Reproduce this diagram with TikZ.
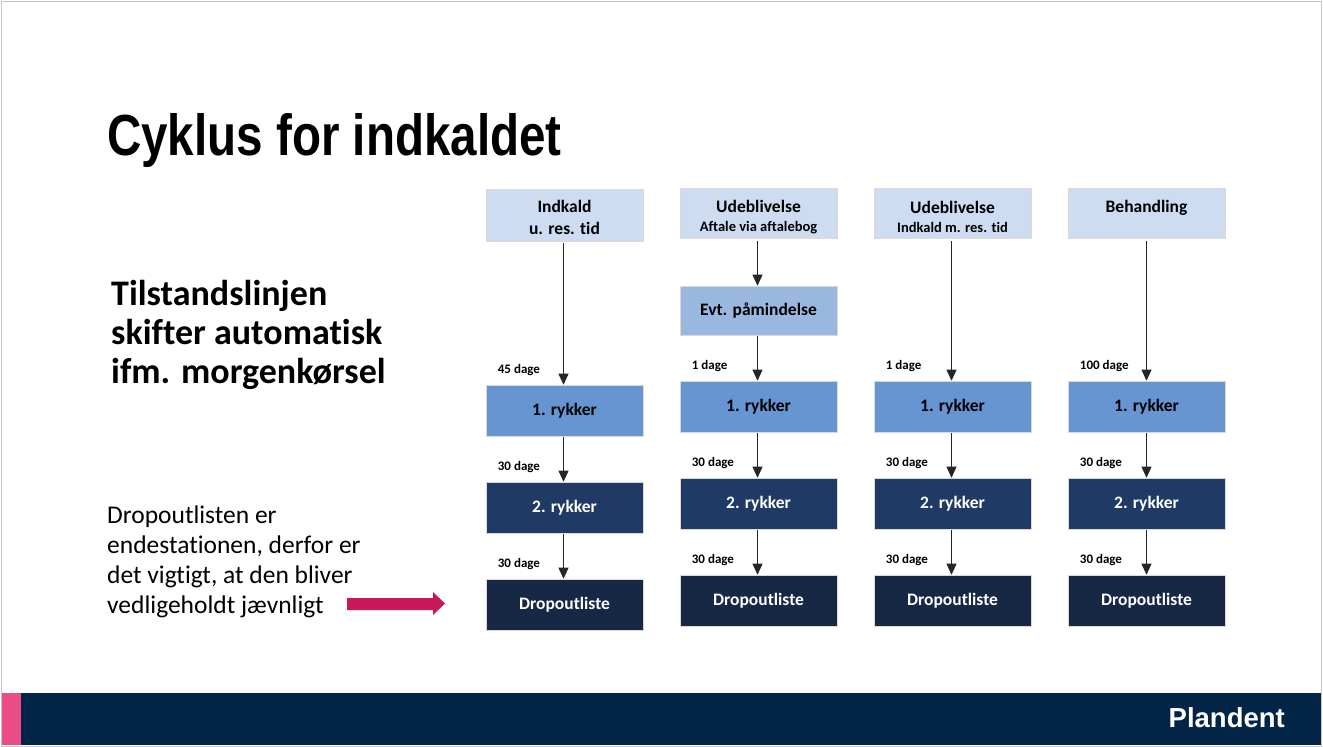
\documentclass[tikz,border=0pt]{standalone}
\usepackage{fontspec}
\setmainfont[Ligatures={NoCommon}]{Carlito}
\newfontfamily\titlefont[FakeStretch=0.82]{Liberation Sans}
\newfontfamily\logofont{Liberation Sans}
\usetikzlibrary{arrows.meta,calc}
\definecolor{hdr}{RGB}{205,220,240}
\definecolor{evt}{RGB}{154,183,224}
\definecolor{rykA}{RGB}{102,149,210}
\definecolor{rykB}{RGB}{31,58,100}
\definecolor{dropc}{RGB}{22,40,68}
\definecolor{barblue}{RGB}{2,37,71}
\definecolor{pinkc}{RGB}{233,76,135}
\definecolor{crimsonc}{RGB}{200,24,90}
\tikzset{
  box/.style={rectangle, minimum width=157pt, minimum height=51pt, inner sep=0pt,
    draw=white!70!gray, line width=0.6pt, align=center,
    font=\bfseries\fontsize{17.5}{22}\selectfont},
  hdrbox/.style={box, fill=hdr, minimum height=51pt},
  evtbox/.style={box, fill=evt, minimum height=49pt},
  r1box/.style={box, fill=rykA},
  r2box/.style={box, fill=rykB, text=white},
  dropbox/.style={box, fill=dropc, text=white},
  conn/.style={-{Triangle[width=10pt,length=11pt]}, line width=0.8pt, draw=black!85},
  days/.style={anchor=west, font=\bfseries\fontsize{13}{15}\selectfont, inner sep=0pt},
  bigline/.style={anchor=base west, inner sep=0pt, font=\bfseries\fontsize{36}{39}\selectfont},
  bodyline/.style={anchor=base west, inner sep=0pt, font=\fontsize{25.5}{30}\selectfont}
}
\newcommand{\subfs}{\fontsize{14.5}{17}\selectfont}
\begin{document}
\begin{tikzpicture}[x=1pt,y=-1pt]
\useasboundingbox (0,0) rectangle (1323,747);
% slide frame and footer
\fill[white] (0,0) rectangle (1323,747);
\fill[barblue] (1,693) rectangle (1321,745);
\fill[pinkc] (1,693) rectangle (21,745);
\draw[gray!45, line width=1pt] (1,1) rectangle (1321,746);
\node[anchor=base east, font=\logofont\bfseries\fontsize{27.5}{30}\selectfont, text=white, inner sep=0pt] (logo) at (1285,727) {Plandent};

% title and left texts
\node[anchor=base west, inner sep=0pt, font=\titlefont\bfseries\fontsize{58}{60}\selectfont] (title) at (107,155) {Cyklus for indkaldet};
\node[bigline] (t1) at (111,305) {Tilstandslinjen};
\node[bigline] (t2) at (111,344) {skifter automatisk};
\node[bigline] (t3) at (111,383) {ifm. morgenkørsel};
\node[bodyline] (b1) at (107,523) {Dropoutlisten er};
\node[bodyline] (b2) at (107,553) {endestationen, derfor er};
\node[bodyline] (b3) at (107,583) {det vigtigt, at den bliver};
\node[bodyline] (b4) at (107,613) {vedligeholdt jævnligt};
\fill[crimsonc] (347,598) -- (433,598) -- (433,592) -- (445,603.5) -- (433,615) -- (433,610) -- (347,610) -- cycle;

% column 1
\node[hdrbox, minimum height=52pt] (h1) at (564.5,215) {\rule{0pt}{17pt}Indkald\\u. res. tid};
\node[r1box] (a1) at (564.5,410.5) {1. rykker};
\node[r2box] (a2) at (564.5,507.5) {2. rykker};
\node[dropbox] (a3) at (564.5,604.5) {Dropoutliste};
% column 2
\node[hdrbox, minimum height=50pt] (h2) at (758.5,213.5) {\rule{0pt}{19pt}Udeblivelse\\[-3pt]{\subfs Aftale via aftalebog}};
\node[evtbox] (e2) at (758.5,310.5) {Evt. påmindelse};
\node[r1box] (c1) at (758.5,406.5) {1. rykker};
\node[r2box] (c2) at (758.5,503.5) {2. rykker};
\node[dropbox] (c3) at (758.5,600.5) {Dropoutliste};
% column 3
\node[hdrbox, minimum height=50pt] (h3) at (952.5,213.5) {\rule{0pt}{19pt}Udeblivelse\\[-3pt]{\subfs Indkald m. res. tid}};
\node[r1box] (d1) at (952.5,406.5) {1. rykker};
\node[r2box] (d2) at (952.5,503.5) {2. rykker};
\node[dropbox] (d3) at (952.5,600.5) {Dropoutliste};
% column 4
\node[hdrbox, minimum height=50pt] (h4) at (1146.5,213.5) {\rule{0pt}{19pt}Behandling\\[-3pt]{\subfs\phantom{Ag}}};
\node[r1box] (f1) at (1146.5,406.5) {1. rykker};
\node[r2box] (f2) at (1146.5,503.5) {2. rykker};
\node[dropbox] (f3) at (1146.5,600.5) {Dropoutliste};

% connectors
\draw[conn] ($(h1.south)+(-1,2)$) -- ($(a1.north)+(-1,0)$);
\draw[conn] ($(a1.south)+(-1,1)$) -- ($(a2.north)+(-1,0)$);
\draw[conn] ($(a2.south)+(-1,1)$) -- ($(a3.north)+(-1,0)$);
\draw[conn] ($(h2.south)+(-1,2)$) -- ($(e2.north)+(-1,0)$);
\draw[conn] ($(e2.south)+(-1,1)$) -- ($(c1.north)+(-1,0)$);
\draw[conn] ($(c1.south)+(-1,1)$) -- ($(c2.north)+(-1,0)$);
\draw[conn] ($(c2.south)+(-1,1)$) -- ($(c3.north)+(-1,0)$);
\draw[conn] ($(h3.south)+(-1,2)$) -- ($(d1.north)+(-1,0)$);
\draw[conn] ($(d1.south)+(-1,1)$) -- ($(d2.north)+(-1,0)$);
\draw[conn] ($(d2.south)+(-1,1)$) -- ($(d3.north)+(-1,0)$);
\draw[conn] ($(h4.south)+(0,2)$) -- (f1.north);
\draw[conn] ($(f1.south)+(0,1)$) -- (f2.north);
\draw[conn] ($(f2.south)+(0,1)$) -- (f3.north);

% day labels
\node[days] (la1) at ($(a1.north west)+(12,-15)$) {45 dage};
\node[days] (la2) at ($(a2.north west)+(12,-15)$) {30 dage};
\node[days] (la3) at ($(a3.north west)+(12,-15)$) {30 dage};
\node[days] (lc1) at ($(c1.north west)+(12,-15)$) {1 dage};
\node[days] (lc2) at ($(c2.north west)+(12,-15)$) {30 dage};
\node[days] (lc3) at ($(c3.north west)+(12,-15)$) {30 dage};
\node[days] (ld1) at ($(d1.north west)+(12,-15)$) {1 dage};
\node[days] (ld2) at ($(d2.north west)+(12,-15)$) {30 dage};
\node[days] (ld3) at ($(d3.north west)+(12,-15)$) {30 dage};
\node[days] (lf1) at ($(f1.north west)+(12,-15)$) {100 dage};
\node[days] (lf2) at ($(f2.north west)+(12,-15)$) {30 dage};
\node[days] (lf3) at ($(f3.north west)+(12,-15)$) {30 dage};
\end{tikzpicture}
\end{document}
